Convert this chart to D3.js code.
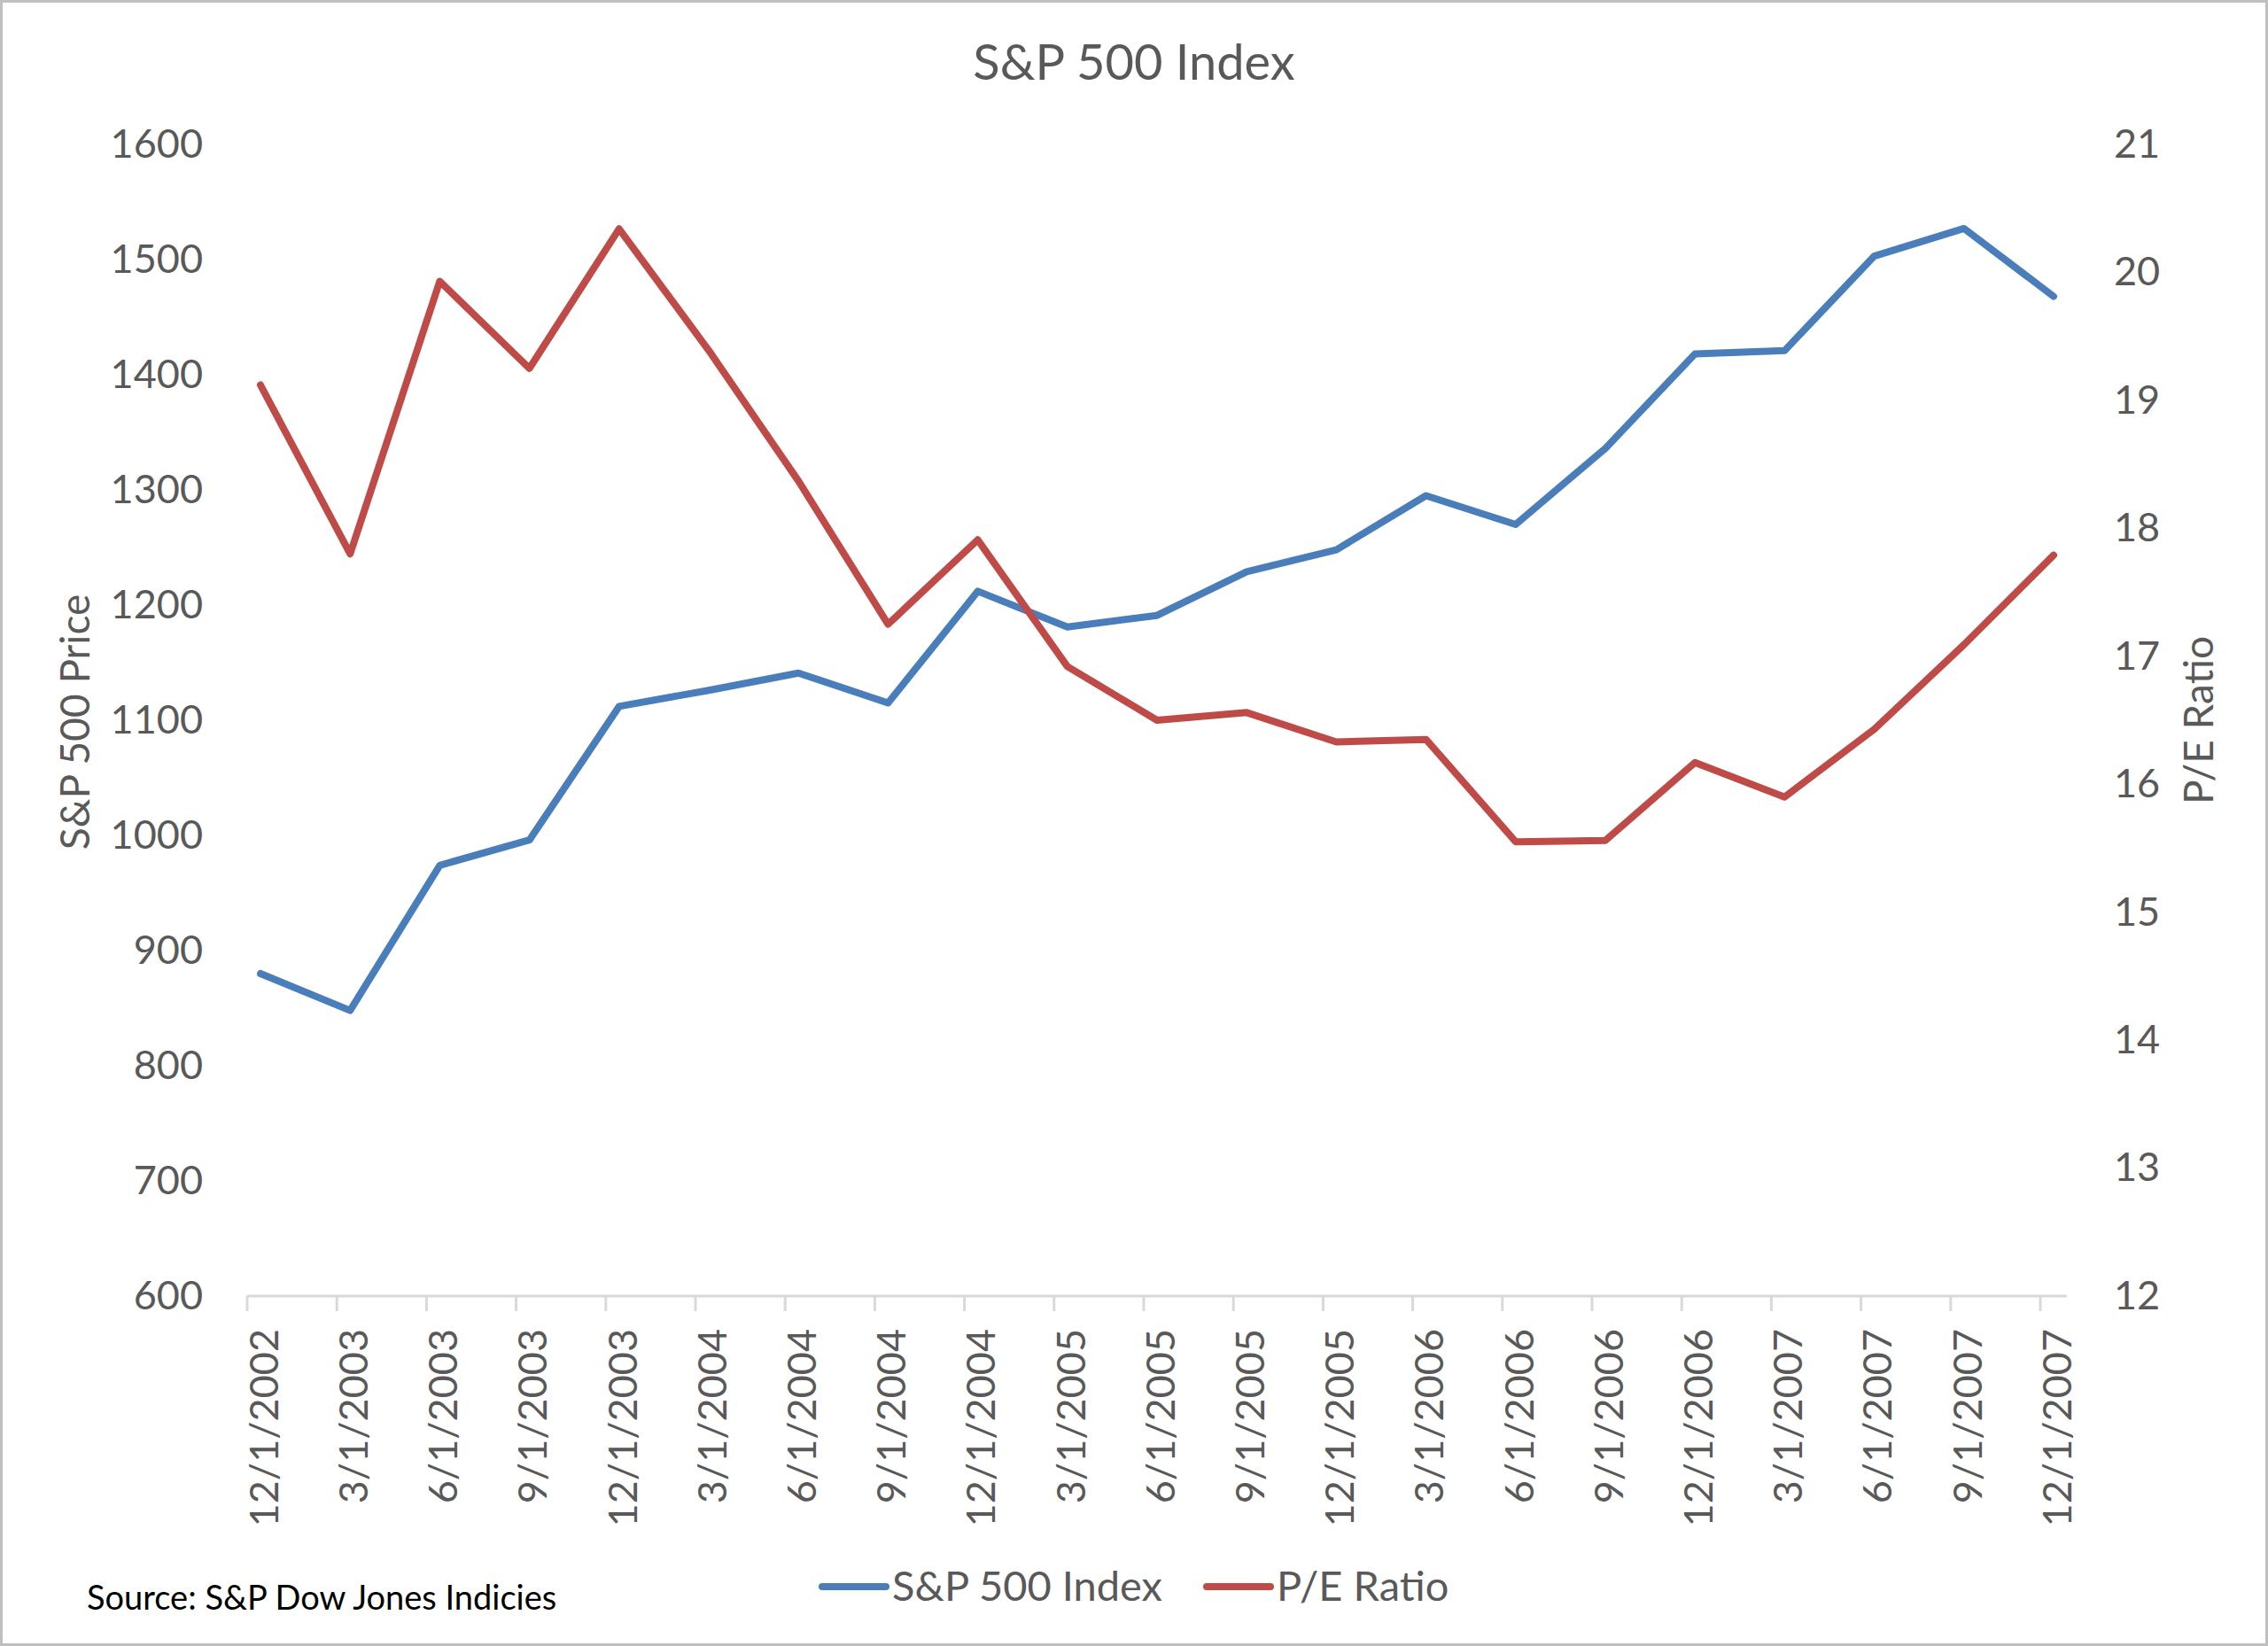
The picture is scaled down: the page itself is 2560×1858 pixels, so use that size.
<!DOCTYPE html>
<html>
<head>
<meta charset="utf-8">
<script src="https://cdn.jsdelivr.net/npm/d3@7"></script>
<style>
  body { margin: 0; background: #fff; }
  svg { display: block; font-family: Lato, "Open Sans", sans-serif; }
</style>
</head>
<body>
<svg id="drawing_region"></svg>
<script>
// quarter-end dates shown on the category axis
const dates = ["12/1/2002", "3/1/2003", "6/1/2003", "9/1/2003", "12/1/2003",
  "3/1/2004", "6/1/2004", "9/1/2004", "12/1/2004", "3/1/2005", "6/1/2005",
  "9/1/2005", "12/1/2005", "3/1/2006", "6/1/2006", "9/1/2006", "12/1/2006",
  "3/1/2007", "6/1/2007", "9/1/2007", "12/1/2007"];

const spxValues = [880, 848, 974, 996, 1112, 1126, 1141, 1115, 1212, 1181, 1191,
  1229, 1248, 1295, 1270, 1336, 1418, 1421, 1503, 1527, 1468];

const peValues = [19.12, 17.80, 19.93, 19.25, 20.34, 19.39, 18.37, 17.25, 17.91,
  16.92, 16.50, 16.56, 16.33, 16.35, 15.55, 15.56, 16.17, 15.90, 16.43, 17.09, 17.79];

const leftTicks = [600, 700, 800, 900, 1000, 1100, 1200, 1300, 1400, 1500, 1600];
const rightTicks = [12, 13, 14, 15, 16, 17, 18, 19, 20, 21];

const seriesNames = ["S&P 500 Index", "P/E Ratio"];
const seriesColors = ["#4a7ebb", "#be4b48"];

const W = 2560, H = 1858;
const textColor = "#595959";

const svg = d3.select("#drawing_region")
    .attr("width", W)
    .attr("height", H);

// chart area border
svg.append("rect")
    .attr("x", 1.5).attr("y", 1.5)
    .attr("width", W - 3).attr("height", H - 3)
    .attr("fill", "#fff")
    .attr("stroke", "#bfbfbf")
    .attr("stroke-width", 3);

const x = d3.scalePoint().domain(dates).range([294, 2318]);
const yLeft = d3.scaleLinear().domain([600, 1600]).range([1463, 163]);
const yRight = d3.scaleLinear().domain([12, 21]).range([1463, 163]);

// title
svg.append("text")
    .attr("x", 1280).attr("y", 70)
    .attr("dy", "0.35em")
    .attr("text-anchor", "middle")
    .attr("fill", textColor)
    .attr("font-size", 56)
    .text("S&P 500 Index");

// left axis
const gLeft = svg.append("g").attr("transform", "translate(229,0)");
gLeft.call(d3.axisLeft(yLeft).tickValues(leftTicks).tickFormat(d3.format("d"))
    .tickSize(0).tickPadding(0));
gLeft.select(".domain").remove();
gLeft.selectAll("text")
    .attr("fill", textColor)
    .attr("font-size", 45)
    .attr("font-family", "Lato, sans-serif");

// right axis
const gRight = svg.append("g").attr("transform", "translate(2386,0)");
gRight.call(d3.axisRight(yRight).tickValues(rightTicks).tickSize(0).tickPadding(0));
gRight.select(".domain").remove();
gRight.selectAll("text")
    .attr("fill", textColor)
    .attr("font-size", 45)
    .attr("font-family", "Lato, sans-serif");

// bottom axis: line, ticks and rotated labels
const axisY = 1463;
const tickShift = -15;
svg.append("line")
    .attr("x1", x(dates[0]) + tickShift).attr("x2", 2333)
    .attr("y1", axisY).attr("y2", axisY)
    .attr("stroke", "#d9d9d9")
    .attr("stroke-width", 3);

svg.selectAll(".xtick")
    .data(dates)
    .enter()
    .append("line")
    .attr("class", "xtick")
    .attr("x1", d => x(d) + tickShift).attr("x2", d => x(d) + tickShift)
    .attr("y1", axisY).attr("y2", axisY + 17)
    .attr("stroke", "#d9d9d9")
    .attr("stroke-width", 3);

svg.selectAll(".xlabel")
    .data(dates)
    .enter()
    .append("text")
    .attr("class", "xlabel")
    .attr("transform", d => `translate(${x(d) + 4}, 1500) rotate(-90)`)
    .attr("dy", "0.35em")
    .attr("text-anchor", "end")
    .attr("fill", textColor)
    .attr("font-size", 45)
    .text(d => d);

// axis titles
svg.append("text")
    .attr("transform", "translate(85, 815) rotate(-90)")
    .attr("dy", "0.35em")
    .attr("text-anchor", "middle")
    .attr("fill", textColor)
    .attr("font-size", 46)
    .text("S&P 500 Price");

svg.append("text")
    .attr("transform", "translate(2482, 813) rotate(-90)")
    .attr("dy", "0.35em")
    .attr("text-anchor", "middle")
    .attr("fill", textColor)
    .attr("font-size", 46)
    .text("P/E Ratio");

// lines
const lineLeft = d3.line()
    .x((d, i) => x(dates[i]))
    .y(d => yLeft(d));
const lineRight = d3.line()
    .x((d, i) => x(dates[i]))
    .y(d => yRight(d));

svg.append("path")
    .datum(spxValues)
    .attr("d", lineLeft)
    .attr("fill", "none")
    .attr("stroke", seriesColors[0])
    .attr("stroke-width", 8)
    .attr("stroke-linejoin", "round")
    .attr("stroke-linecap", "round");

svg.append("path")
    .datum(peValues)
    .attr("d", lineRight)
    .attr("fill", "none")
    .attr("stroke", seriesColors[1])
    .attr("stroke-width", 8)
    .attr("stroke-linejoin", "round")
    .attr("stroke-linecap", "round");

// legend
const legendY = 1791;
let lx = 928;
seriesNames.forEach((name, i) => {
    svg.append("line")
        .attr("x1", lx).attr("x2", lx + 72)
        .attr("y1", legendY).attr("y2", legendY)
        .attr("stroke", seriesColors[i])
        .attr("stroke-width", 8)
        .attr("stroke-linecap", "round");
    const t = svg.append("text")
        .attr("x", lx + 79).attr("y", legendY)
        .attr("dy", "0.35em")
        .attr("fill", textColor)
        .attr("font-size", 47)
        .text(name);
    lx += 79 + t.node().getComputedTextLength() + 50;
});

// source note
svg.append("text")
    .attr("x", 98).attr("y", 1804)
    .attr("dy", "0.35em")
    .attr("fill", "#000")
    .attr("font-size", 38)
    .text("Source: S&P Dow Jones Indicies");
</script>
</body>
</html>
